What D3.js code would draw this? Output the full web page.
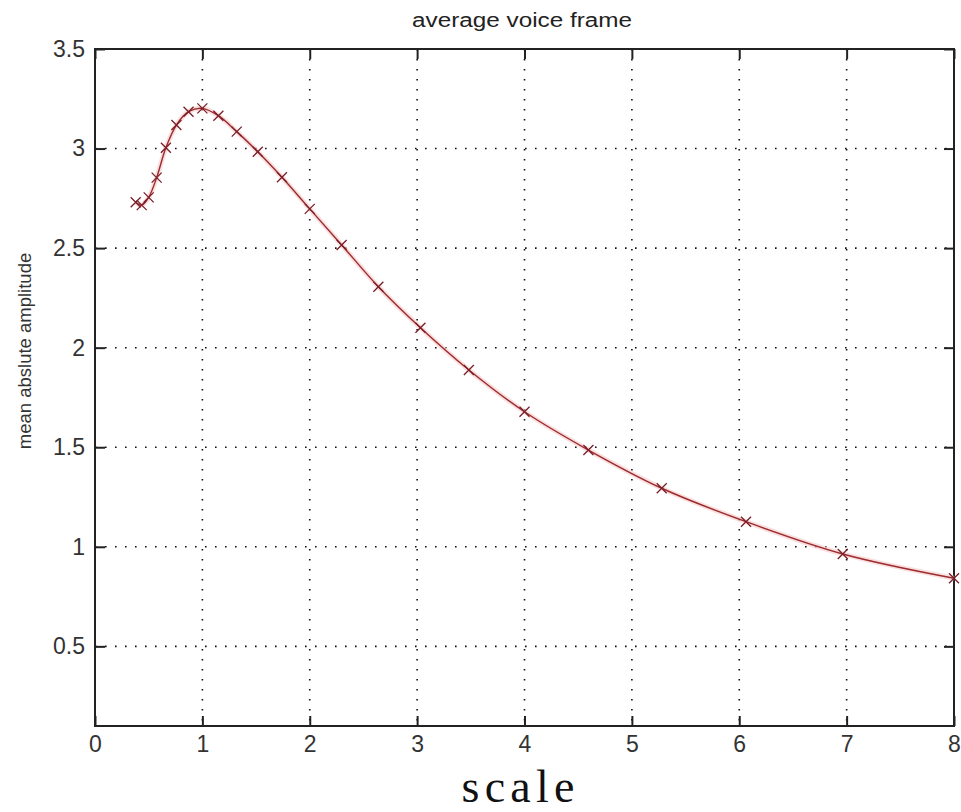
<!DOCTYPE html>
<html>
<head>
<meta charset="utf-8">
<script src="https://cdn.jsdelivr.net/npm/d3@7/dist/d3.min.js"></script>
<style>
  html, body { margin: 0; padding: 0; background: #fff; }
  svg { display: block; }
</style>
</head>
<body>
<svg id="chart" width="961" height="812"></svg>
<script>
// ---- data ----
const scaleValues = [0.379, 0.435, 0.5, 0.574, 0.66, 0.758, 0.871, 1.0, 1.149, 1.32, 1.516, 1.741, 2.0, 2.297, 2.639, 3.031, 3.482, 4.0, 4.595, 5.278, 6.063, 6.964, 8.0];
const amplitudeValues = [2.73, 2.716, 2.755, 2.854, 3.004, 3.118, 3.185, 3.202, 3.165, 3.085, 2.984, 2.856, 2.697, 2.516, 2.306, 2.10, 1.888, 1.678, 1.486, 1.294, 1.126, 0.964, 0.842];
const xTickValues = [0, 1, 2, 3, 4, 5, 6, 7, 8];
const yTickValues = [0.5, 1, 1.5, 2, 2.5, 3, 3.5];
const yTickLabels = ["0.5", "1", "1.5", "2", "2.5", "3", "3.5"];
const titleText = "average voice frame";
const xLabelText = "scale";
const yLabelText = "mean abslute amplitude";

(function () {
const svg = d3.select("#chart");
const pLeft = 95, pRight = 954, pTop = 49, pBottom = 726;

const x = d3.scaleLinear().domain([0, 8]).range([pLeft, pRight]);
const y = d3.scaleLinear().domain([0.1, 3.5]).range([pBottom, pTop]);

// grid (dotted)
const grid = svg.append("g");
grid.selectAll("line.vg").data(xTickValues.filter(d => d > 0 && d < 8)).enter()
  .append("line").attr("class", "vg")
  .attr("x1", d => x(d)).attr("x2", d => x(d))
  .attr("y1", pTop).attr("y2", pBottom)
  .attr("stroke", "#111").attr("stroke-width", 1.6)
  .attr("stroke-dasharray", "1.6 8.4");
grid.selectAll("line.hg").data(yTickValues.filter(d => d < 3.5)).enter()
  .append("line").attr("class", "hg")
  .attr("x1", pLeft).attr("x2", pRight)
  .attr("y1", d => y(d)).attr("y2", d => y(d))
  .attr("stroke", "#111").attr("stroke-width", 1.6)
  .attr("stroke-dasharray", "1.6 8.4");

// axes with inward ticks on all sides
const tickLen = 10;
const fontTick = "'Liberation Sans', Arial, sans-serif";

const xAxisB = d3.axisBottom(x).tickValues(xTickValues).tickSize(-tickLen).tickPadding(10).tickFormat(d3.format("d"));
const xAxisT = d3.axisTop(x).tickValues(xTickValues).tickSize(-tickLen).tickFormat("");
const yAxisL = d3.axisLeft(y).tickValues(yTickValues).tickSize(-tickLen).tickPadding(10).tickFormat((d, i) => yTickLabels[i]);
const yAxisR = d3.axisRight(y).tickValues(yTickValues).tickSize(-tickLen).tickFormat("");

function styleAxis(g) {
  g.select(".domain").remove();
  g.selectAll(".tick line").attr("stroke", "#222").attr("stroke-width", 2);
  g.selectAll(".tick text").attr("fill", "#333").style("font-family", fontTick).style("font-size", "23px");
}
svg.append("g").attr("transform", `translate(0,${pBottom})`).call(xAxisB).call(styleAxis);
svg.append("g").attr("transform", `translate(0,${pTop})`).call(xAxisT).call(styleAxis);
svg.append("g").attr("transform", `translate(${pLeft},0)`).call(yAxisL).call(styleAxis);
svg.append("g").attr("transform", `translate(${pRight},0)`).call(yAxisR).call(styleAxis);

// frame
svg.append("rect").attr("x", pLeft).attr("y", pTop)
  .attr("width", pRight - pLeft).attr("height", pBottom - pTop)
  .attr("fill", "none").attr("stroke", "#222").attr("stroke-width", 2);

// line
const pts = scaleValues.map((s, i) => [s, amplitudeValues[i]]);
const line = d3.line().x(d => x(d[0])).y(d => y(d[1])).curve(d3.curveCatmullRom.alpha(0.5));
svg.append("path").datum(pts).attr("d", line)
  .attr("fill", "none").attr("stroke", "#f6caca").attr("stroke-width", 5).attr("opacity", 0.6);
svg.append("path").datum(pts).attr("d", line)
  .attr("fill", "none").attr("stroke", "#9c2a2f").attr("stroke-width", 1.4);

// x markers
const m = 5;
svg.append("g").selectAll("path.mk").data(pts).enter().append("path")
  .attr("d", d => {
    const cx = x(d[0]), cy = y(d[1]);
    return `M${cx - m},${cy - m}L${cx + m},${cy + m}M${cx - m},${cy + m}L${cx + m},${cy - m}`;
  })
  .attr("stroke", "#7a1e28").attr("stroke-width", 1.3).attr("fill", "none");

// title
svg.append("text").attr("x", 522).attr("y", 27).attr("text-anchor", "middle")
  .attr("textLength", 220).attr("lengthAdjust", "spacingAndGlyphs")
  .style("font-family", fontTick).style("font-size", "20px").attr("fill", "#222")
  .text(titleText);

// y label
svg.append("text").attr("transform", `translate(31,351) rotate(-90)`).attr("text-anchor", "middle")
  .style("font-family", fontTick).style("font-size", "18.5px").attr("fill", "#333")
  .text(yLabelText);

// x label
svg.append("text").attr("x", 518).attr("y", 802).attr("text-anchor", "middle")
  .attr("textLength", 113).attr("lengthAdjust", "spacing")
  .style("font-family", "'Liberation Serif', 'Times New Roman', serif").style("font-size", "46px").attr("fill", "#111")
  .text(xLabelText);
})();
</script>
</body>
</html>
